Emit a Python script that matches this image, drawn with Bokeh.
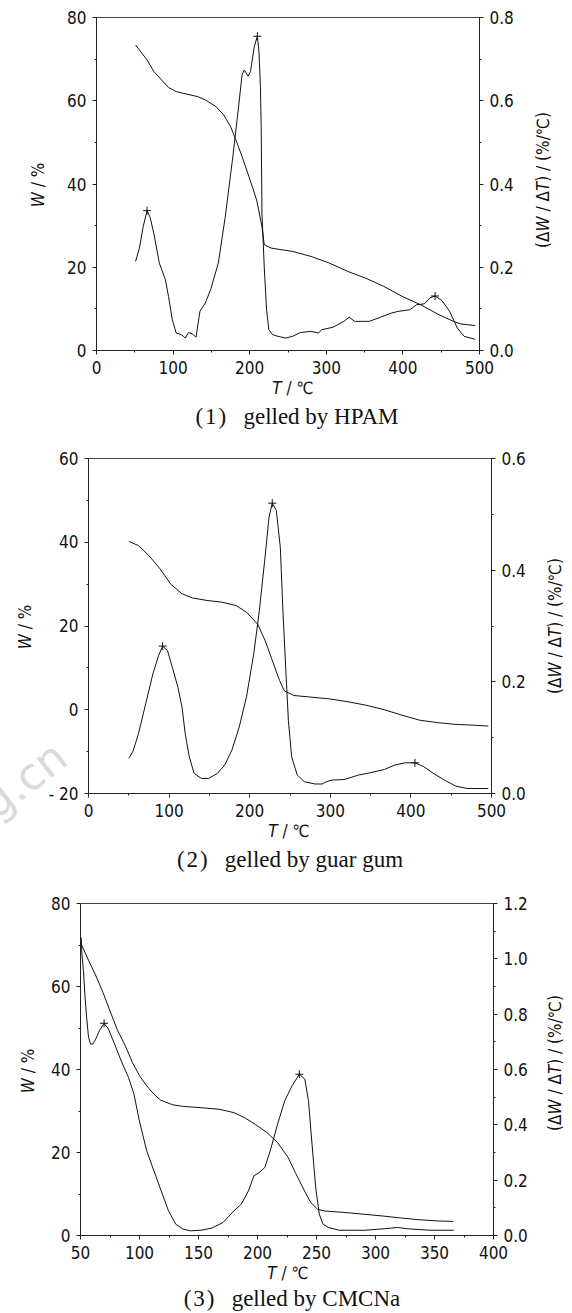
import glob
import os

from bokeh.embed import file_html
from bokeh.layouts import column, row
from bokeh.models import Div, FixedTicker, LinearAxis, PrintfTickFormatter, Range1d
from bokeh.plotting import figure
from bokeh.resources import INLINE

# ---------------- data ----------------
# (1) gelled by HPAM
T1_tg = [51, 56, 66, 75, 85, 94, 104, 113, 132, 142, 156, 166, 175, 182, 190, 199, 209, 216, 219, 228,
         256, 280, 304, 328, 351, 375, 399, 423, 447, 466, 475, 494]
W1_tg = [73.4, 72.2, 69.8, 67.0, 65.0, 63.2, 62.2, 61.8, 61.0, 60.2, 58.6, 56.6, 53.8, 50.6, 46.6, 41.8,
         36.2, 29.8, 25.4, 24.6, 23.8, 22.6, 21.0, 19.0, 17.4, 15.4, 13.0, 11.0, 8.6, 7.0, 6.4, 6.0]
T1_dtg = [51, 56, 61, 66, 70, 75, 82, 90, 94, 99, 104, 111, 116, 120, 125, 130, 135, 142, 149, 159,
          168, 178, 185, 190, 193, 198, 201, 206, 210, 212, 214, 215, 216, 219, 222, 225, 230, 237, 247, 256,
          266, 280, 290, 294, 309, 323, 330, 337, 356, 371, 385, 394, 409, 418, 428, 435, 442, 451, 461, 471,
          480, 494]
D1_dtg = [0.214, 0.246, 0.298, 0.336, 0.320, 0.280, 0.210, 0.170, 0.130, 0.074, 0.042, 0.038, 0.030, 0.043,
          0.040, 0.032, 0.094, 0.114, 0.146, 0.210, 0.320, 0.466, 0.578, 0.662, 0.674, 0.659, 0.670, 0.730,
          0.755, 0.720, 0.634, 0.538, 0.330, 0.200, 0.098, 0.050, 0.038, 0.034, 0.030, 0.034, 0.043, 0.046,
          0.042, 0.050, 0.056, 0.070, 0.080, 0.070, 0.070, 0.080, 0.090, 0.094, 0.098, 0.110, 0.112, 0.126,
          0.131, 0.120, 0.094, 0.054, 0.034, 0.027]
T1_peak = [66, 210, 442]
D1_peak = [0.336, 0.755, 0.131]

# (2) gelled by guar gum
T2_tg = [50, 62, 75, 89, 102, 116, 129, 147, 165, 183, 196, 210, 219, 228, 237, 243, 255, 277, 299, 322,
         344, 367, 389, 411, 434, 456, 479, 496]
W2_tg = [40.2, 39.2, 36.8, 33.6, 30.0, 27.7, 26.7, 26.1, 25.7, 24.9, 23.3, 20.4, 16.6, 11.8, 7.0, 4.5,
         3.4, 3.0, 2.6, 1.9, 1.1, 0.0, -1.3, -2.5, -3.1, -3.5, -3.7, -3.9]
T2_dtg = [50, 55, 62, 71, 80, 87, 92, 98, 104, 111, 116, 120, 125, 131, 140, 149, 160, 169, 178, 187,
          196, 205, 212, 219, 224, 228, 233, 238, 241, 245, 248, 252, 259, 268, 281, 290, 295, 302, 317, 335,
          349, 367, 380, 393, 405, 416, 429, 443, 456, 470, 496]
D2_dtg = [0.063, 0.075, 0.107, 0.161, 0.215, 0.247, 0.264, 0.256, 0.226, 0.190, 0.155, 0.107, 0.066, 0.036,
          0.027, 0.027, 0.036, 0.051, 0.078, 0.119, 0.173, 0.250, 0.328, 0.423, 0.495, 0.520, 0.507, 0.441,
          0.334, 0.215, 0.131, 0.066, 0.033, 0.021, 0.017, 0.017, 0.021, 0.024, 0.025, 0.033, 0.037, 0.043,
          0.051, 0.055, 0.055, 0.048, 0.035, 0.023, 0.013, 0.009, 0.009]
T2_peak = [92, 228, 405]
D2_peak = [0.264, 0.520, 0.055]

# (3) gelled by CMCNa
T3_tg = [50.6, 57, 63, 69, 75, 81, 88, 94, 100, 106, 112, 118, 128, 137, 152, 168, 180, 189, 198, 208,
         217, 226, 232, 239, 245, 251, 257, 276, 291, 306, 322, 337, 353, 366]
W3_tg = [70.2, 66.2, 62.6, 58.6, 54.1, 49.7, 45.7, 41.7, 38.5, 36.1, 34.1, 32.6, 31.5, 31.1, 30.8, 30.4,
         29.6, 28.4, 26.8, 24.8, 22.4, 18.8, 15.2, 11.2, 8.0, 6.3, 5.9, 5.5, 5.1, 4.7, 4.2, 3.8, 3.5, 3.4]
T3_dtg = [50.6, 51.2, 52.5, 53.7, 55.2, 56.8, 58.6, 60.5, 62.9, 66, 70, 73.7, 78.3, 84.5, 90.7, 95.3,
          99.9, 106.1, 112.2, 118.4, 124.6, 130.7, 136.9, 143, 152.3, 161.5, 170.8, 180, 186.2, 192.3,
          197, 201.6, 206.2, 210.8, 217, 223.1, 229.3, 235.5, 240.1, 243.2, 246.2, 249.3, 252.4, 255.5,
          260.1, 269.3, 290.9, 306.3, 318.6, 327.9, 346.4, 366.4]
D3_dtg = [1.077, 1.017, 0.957, 0.872, 0.788, 0.716, 0.692, 0.692, 0.710, 0.740, 0.767, 0.746, 0.698, 0.631,
          0.571, 0.511, 0.414, 0.306, 0.234, 0.161, 0.089, 0.041, 0.023, 0.017, 0.019, 0.027, 0.047, 0.089,
          0.113, 0.161, 0.216, 0.228, 0.246, 0.306, 0.402, 0.487, 0.541, 0.583, 0.565, 0.487, 0.330, 0.173,
          0.077, 0.041, 0.029, 0.019, 0.019, 0.024, 0.029, 0.024, 0.019, 0.019]
T3_peak = [70, 235.5]
D3_peak = [0.767, 0.583]

captions = ["(&#8202;1&#8202;)&ensp; gelled by HPAM",
            "(&#8202;2&#8202;)&ensp; gelled by guar gum",
            "(&#8202;3&#8202;)&ensp; gelled by CMCNa"]
ylabel_html = "<i>W</i>&nbsp;/&nbsp;%"
xlabel_html = "<i>T</i>&nbsp;/&nbsp;&#8451;"
rlabel_html = "(&Delta;<i>W</i>&nbsp;/&nbsp;&Delta;<i>T</i>)&nbsp;/&nbsp;(%/&#8451;)"

# ---------------- fonts ----------------
def find_file(name):
    for d in ["/usr/share/fonts", "/usr/local/share/fonts",
              os.path.expanduser("~/.local/share/fonts"), os.path.expanduser("~/.fonts")]:
        if glob.glob(os.path.join(d, "**", name), recursive=True):
            return True
    return False

if find_file("LiberationSansNarrow-Regular.ttf"):
    SANS, FS = "Liberation Sans Narrow", 18
elif find_file("DejaVuSansCondensed.ttf"):
    SANS, FS = "DejaVu Sans Condensed", 17
else:
    SANS, FS = "Liberation Sans", 16
SANS_CSS = f"'{SANS}', 'Liberation Sans', sans-serif"
SERIF_CSS = "'Liberation Serif', 'DejaVu Serif', serif"
INK = "#111111"
AX = "#222222"

# ---------------- layout geometry (page pixels) ----------------
PAGE_W = 572
LW, RW = 45, 42            # side strips that carry the rotated axis titles
FIG_W = PAGE_W - LW - RW


def make_panel(height, bl, fw, top, fh, xr, yr, y2r, xt, xmt, yt, ymt, y2t, y2mt, yover=None):
    p = figure(width=FIG_W, height=height, x_range=Range1d(*xr), y_range=Range1d(*yr),
               output_backend="svg", toolbar_location=None, margin=0,
               min_border_left=bl, min_border_right=FIG_W - bl - fw,
               min_border_top=top, min_border_bottom=height - top - fh)
    p.background_fill_color = "white"
    p.border_fill_color = None
    p.xgrid.visible = False
    p.ygrid.visible = False
    p.outline_line_color = "#444444"
    p.outline_line_width = 1
    p.extra_y_ranges = {"d": Range1d(*y2r)}
    ax2 = LinearAxis(y_range_name="d")
    p.add_layout(ax2, "right")
    ax2.ticker = FixedTicker(ticks=y2t, minor_ticks=y2mt)
    ax2.formatter = PrintfTickFormatter(format="%.1f")
    p.xaxis[0].ticker = FixedTicker(ticks=xt, minor_ticks=xmt)
    p.yaxis[0].ticker = FixedTicker(ticks=yt, minor_ticks=ymt)
    if yover:
        p.yaxis[0].major_label_overrides = yover
    for ax in [p.xaxis[0], p.yaxis[0], ax2]:
        ax.axis_line_color = AX
        ax.axis_line_width = 1
        ax.major_tick_line_color = AX
        ax.minor_tick_line_color = AX
        ax.major_tick_out = 4
        ax.major_tick_in = 0
        ax.minor_tick_out = 2
        ax.minor_tick_in = 0
        ax.major_label_text_font = SANS
        ax.major_label_text_font_size = f"{FS}px"
        ax.major_label_text_color = INK
        ax.major_label_standoff = 6
    return p


def place(cx, cy, html, font, size, rotate=0, color=INK):
    tr = "translate(-50%,-50%)" + (f" rotate({rotate}deg)" if rotate else "")
    return (f'<div style="position:absolute;left:{cx}px;top:{cy}px;transform:{tr};'
            f'white-space:nowrap;font-family:{font};font-size:{size}px;line-height:1;'
            f'color:{color};">{html}</div>')


def box(w, h, inner):
    return Div(width=w, height=h, margin=0, styles={"overflow": "visible"},
               text=f'<div style="position:relative;width:{w}px;height:{h}px;">{inner}</div>')


panels = [
    dict(height=378, fl=96, fw=383, top=17, fh=333,
         xr=(0, 500), yr=(0, 80), y2r=(0, 0.8),
         xt=[0, 100, 200, 300, 400, 500], xmt=[50, 150, 250, 350, 450],
         yt=[0, 20, 40, 60, 80], ymt=[10, 30, 50, 70],
         y2t=[0, 0.2, 0.4, 0.6, 0.8], y2mt=[0.1, 0.3, 0.5, 0.7], yover=None,
         tg=(T1_tg, W1_tg), dtg=(T1_dtg, D1_dtg), pk=(T1_peak, D1_peak),
         ylab=(38, 184.5), rlab=(13, 180), below_h=54, xlab=(293, 10), cap=(297, 38)),
    dict(height=389, fl=84, fw=407, top=26, fh=335,
         xr=(0, 500), yr=(-20, 60), y2r=(0, 0.6),
         xt=[0, 100, 200, 300, 400, 500], xmt=[50, 150, 250, 350, 450],
         yt=[-20, 0, 20, 40, 60], ymt=[-10, 10, 30, 50],
         y2t=[0, 0.2, 0.4, 0.6], y2mt=[0.1, 0.3, 0.5], yover={-20: "- 20"},
         tg=(T2_tg, W2_tg), dtg=(T2_dtg, D2_dtg), pk=(T2_peak, D2_peak),
         ylab=(25, 195), rlab=(25, 194), below_h=53, xlab=(289, 10), cap=(290, 38)),
    dict(height=389, fl=80, fw=413, top=29, fh=332,
         xr=(50, 400), yr=(0, 80), y2r=(0, 1.2),
         xt=[50, 100, 150, 200, 250, 300, 350, 400], xmt=[75, 125, 175, 225, 275, 325, 375],
         yt=[0, 20, 40, 60, 80], ymt=[10, 30, 50, 70],
         y2t=[0, 0.2, 0.4, 0.6, 0.8, 1.0, 1.2], y2mt=[0.1, 0.3, 0.5, 0.7, 0.9, 1.1], yover=None,
         tg=(T3_tg, W3_tg), dtg=(T3_dtg, D3_dtg), pk=(T3_peak, D3_peak),
         ylab=(28, 197), rlab=(25, 189), below_h=48, xlab=(288, 10), cap=(292, 35)),
]

items = []
for i, c in enumerate(panels):
    p = make_panel(c["height"], c["fl"] - LW, c["fw"], c["top"], c["fh"], c["xr"], c["yr"], c["y2r"],
                   c["xt"], c["xmt"], c["yt"], c["ymt"], c["y2t"], c["y2mt"], c["yover"])
    p.line(c["tg"][0], c["tg"][1], line_color=INK, line_width=1)
    p.line(c["dtg"][0], c["dtg"][1], line_color=INK, line_width=1, y_range_name="d")
    p.scatter(c["pk"][0], c["pk"][1], marker="cross", size=8, line_color=INK, line_width=1,
              y_range_name="d")

    left_inner = place(c["ylab"][0], c["ylab"][1], ylabel_html, SANS_CSS, FS, rotate=-90)
    if i == 1:
        left_inner = place(24, 348, "g.cn", "'DejaVu Sans', sans-serif", 44, rotate=-38,
                           color="#dadada") + left_inner
    left = box(LW, c["height"], left_inner)
    right = box(RW, c["height"], place(c["rlab"][0], c["rlab"][1], rlabel_html, SANS_CSS, FS,
                                      rotate=-90))
    below = box(PAGE_W, c["below_h"],
                place(c["xlab"][0], c["xlab"][1], xlabel_html, SANS_CSS, FS)
                + place(c["cap"][0], c["cap"][1], captions[i], SERIF_CSS, 23))
    items.append(row(left, p, right, spacing=0, margin=0))
    items.append(below)

layout = column(*items, spacing=0, margin=0)
open("out.html", "w").write(file_html(layout, INLINE))
